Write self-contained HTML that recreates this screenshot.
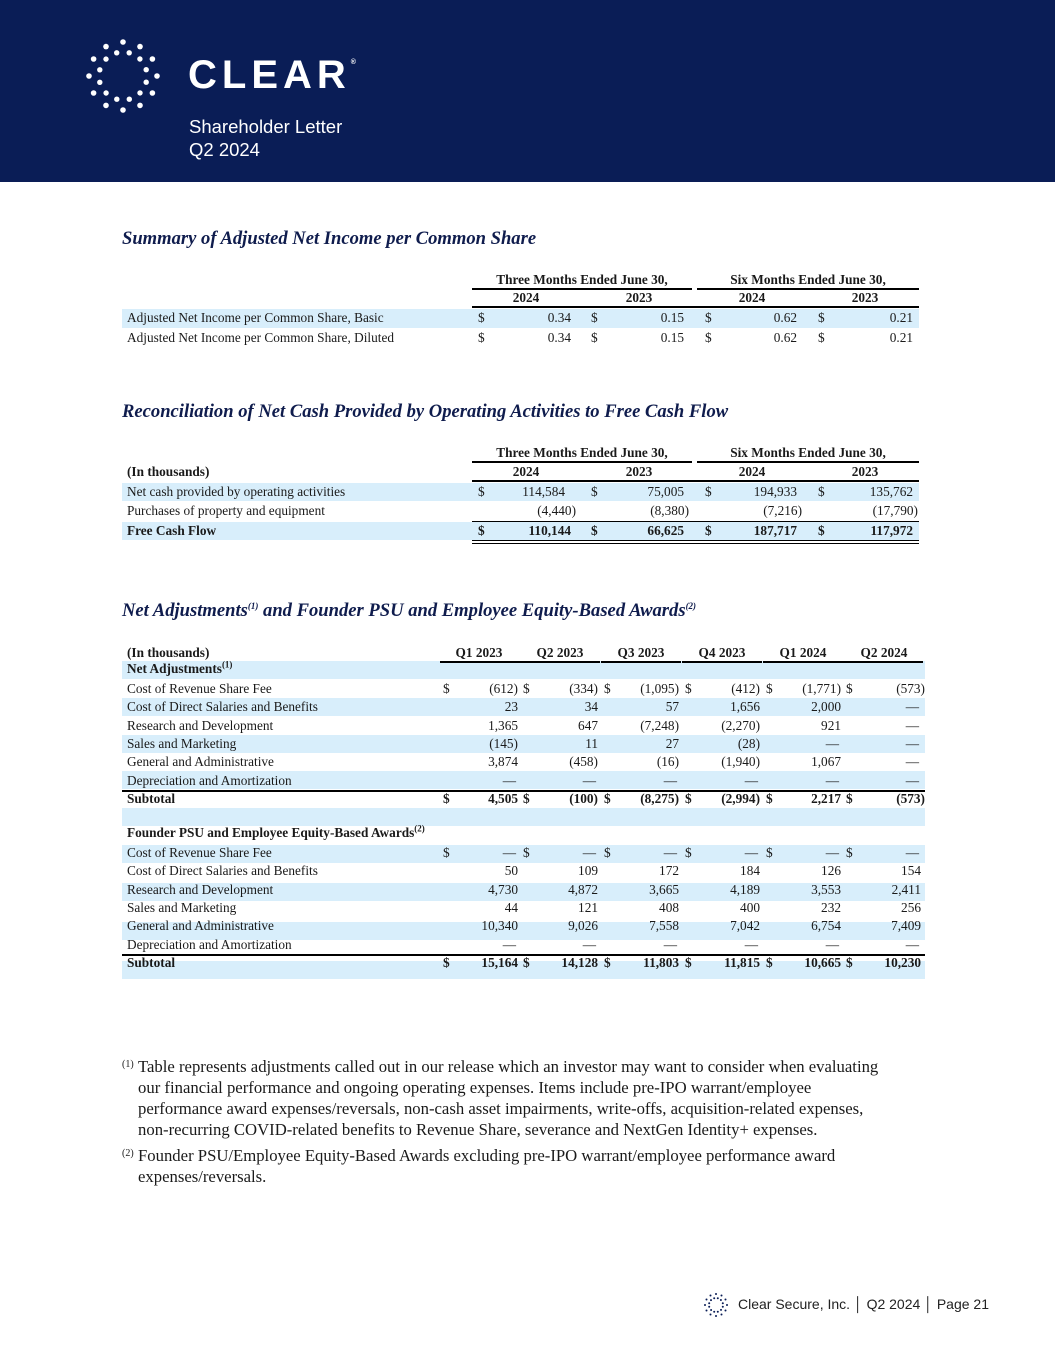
<!DOCTYPE html>
<html><head><meta charset="utf-8">
<style>
body{margin:0;width:1055px;height:1365px;position:relative;background:#fff;overflow:hidden;font-family:"Liberation Serif",serif;color:#1a1a1a}
.a{position:absolute;white-space:nowrap}
.t{font-size:13.3px;line-height:14px}
.b{font-weight:bold}
.h{position:absolute;font-weight:bold;font-style:italic;font-size:18.6px;color:#0f1c4d}
.sh{position:absolute;background:#d8eefb;left:122px}
.ln{position:absolute;background:#000;height:1.5px}
.fn{position:absolute;font-size:16.7px;line-height:21px;left:122px;width:770px}
sup{font-size:9px;line-height:0}
</style></head><body>
<div class="a" style="left:0;top:0;width:1055px;height:182px;background:#0a1d56"></div>
<svg class="a" style="left:80px;top:33px" width="90" height="86" id="logo"></svg>
<div class="a" style="left:188px;top:52px;font-family:'Liberation Sans',sans-serif;font-weight:bold;font-size:40px;letter-spacing:5px;color:#fff;line-height:46px">CLEAR<sup style="font-size:7px;letter-spacing:0;vertical-align:24px">®</sup></div>
<div class="a" style="left:189px;top:115px;font-family:'Liberation Sans',sans-serif;font-size:18.5px;line-height:23px;color:#fff">Shareholder Letter<br>Q2 2024</div>

<div class="h" style="left:122px;top:228px">Summary of Adjusted Net Income per Common Share</div>
<div class="h" style="left:122px;top:401px">Reconciliation of Net Cash Provided by Operating Activities to Free Cash Flow</div>
<div class="h" style="left:122px;top:600px">Net Adjustments<sup>(1)</sup> and Founder PSU and Employee Equity-Based Awards<sup>(2)</sup></div>

<div id="tables"></div>

<div class="fn" style="top:1056px;padding-left:16px;box-sizing:border-box"><span style="position:absolute;left:0;top:-2px;font-size:10px">(1)</span>Table represents adjustments called out in our release which an investor may want to consider when evaluating our financial performance and ongoing operating expenses. Items include pre-IPO warrant/employee performance award expenses/reversals, non-cash asset impairments, write-offs, acquisition-related expenses, non-recurring COVID-related benefits to Revenue Share, severance and NextGen Identity+ expenses.</div>
<div class="fn" style="top:1145px;padding-left:16px;box-sizing:border-box"><span style="position:absolute;left:0;top:-2px;font-size:10px">(2)</span>Founder PSU/Employee Equity-Based Awards excluding pre-IPO warrant/employee performance award expenses/reversals.</div>

<svg class="a" style="left:702px;top:1291px" width="28" height="28" id="logo2"></svg>
<div class="a" style="left:738px;top:1296px;font-family:'Liberation Sans',sans-serif;font-size:14px;color:#222">Clear Secure, Inc. │ Q2 2024 │ Page 21</div>

<script>
function dots(id,cx,cy,rings,col){
  var s=document.getElementById(id),h='';
  rings.forEach(function(r){for(var i=0;i<r[1];i++){var a=i/r[1]*Math.PI*2+r[2];h+='<circle cx="'+(cx+r[0]*Math.cos(a)).toFixed(1)+'" cy="'+(cy+r[0]*Math.sin(a)).toFixed(1)+'" r="'+r[3]+'" fill="'+col+'"/>';}});
  s.innerHTML=h;
}
dots('logo',43,43,[[24,12,0.26,2.7],[34,12,0,2.8]],'#fff');
dots('logo2',14,14,[[7,12,0.26,1],[11,12,0,1]],'#0a1d56');

var T=document.getElementById('tables');
function txt(x,y,s,align,cls,name){
  var d=document.createElement('div');
  d.className='a t '+(cls||'');
  d.textContent=s;
  d.style.top=(y-7)+'px';
  if(align==='r'){d.style.right=(1055-x)+'px';}
  else if(align==='c'){d.style.left=(x-100)+'px';d.style.width='200px';d.style.textAlign='center';}
  else d.style.left=x+'px';
  
  
  T.appendChild(d);return d;
}
function box(x,y,w,h,cls,name){
  var d=document.createElement('div');
  d.className=cls;
  d.style.left=x+'px';d.style.top=y+'px';d.style.width=w+'px';d.style.height=h+'px';
  
  
  T.appendChild(d);
}

/* Table 1 */
var t1Rows=['Adjusted Net Income per Common Share, Basic','Adjusted Net Income per Common Share, Diluted'];
var t1Vals=[['0.34','0.15','0.62','0.21'],['0.34','0.15','0.62','0.21']];
var t1Years=['2024','2023','2024','2023'];
var c4D=[478,591,705,818], c4R=[571,684,797,913], c4C=[526,639,752,865];
box(122,309,797,19,'sh','row-shading');
txt(582,280,'Three Months Ended June 30,','c','b','column-group-header');
txt(808,280,'Six Months Ended June 30,','c','b','column-group-header');
box(472,288,220,1.5,'ln','header-rule');box(697,288,222,1.5,'ln','header-rule');
t1Years.forEach(function(y,i){txt(c4C[i],298,y,'c','b','year-header');});
box(472,306,447,2,'ln','header-rule');
t1Rows.forEach(function(r,j){var y=318+j*20;txt(127,y,r,'l','','row-label');
  t1Vals[j].forEach(function(v,i){txt(c4D[i],y,'$','l','','dollar-sign');txt(c4R[i],y,v,'r','','value-cell');});});

/* Table 2 */
var t2Rows=['Net cash provided by operating activities','Purchases of property and equipment','Free Cash Flow'];
var t2Vals=[['114,584','75,005','194,933','135,762'],['(4,440)','(8,380)','(7,216)','(17,790)'],['110,144','66,625','187,717','117,972']];
box(122,483,797,18,'sh','row-shading');box(122,522,797,18,'sh','row-shading');
txt(582,453,'Three Months Ended June 30,','c','b','column-group-header');
txt(808,453,'Six Months Ended June 30,','c','b','column-group-header');
box(472,461,220,1.5,'ln','header-rule');box(697,461,222,1.5,'ln','header-rule');
txt(127,472,'(In thousands)','l','b','units-label');
t1Years.forEach(function(y,i){txt(c4C[i],472,y,'c','b','year-header');});
box(472,480,447,2,'ln','header-rule');
box(472,521,447,1.2,'ln','total-rule');box(472,540,447,1.2,'ln','total-rule');box(472,543,447,1.2,'ln','total-rule');
t2Rows.forEach(function(r,j){var y=[492,511,531][j];var bold=j===2?'b':'';txt(127,y,r,'l',bold,'row-label');
  t2Vals[j].forEach(function(v,i){if(j!==1)txt(c4D[i],y,'$','l',bold,'dollar-sign');txt(j===0&&i===0?c4R[i]-6:c4R[i]+(j===1?5:0),y,v,'r',bold,'value-cell');});});

/* Table 3 */
var quarters=['Q1 2023','Q2 2023','Q3 2023','Q4 2023','Q1 2024','Q2 2024'];
var rowLabels=['Cost of Revenue Share Fee','Cost of Direct Salaries and Benefits','Research and Development','Sales and Marketing','General and Administrative','Depreciation and Amortization'];
var netAdj=[['(612)','(334)','(1,095)','(412)','(1,771)','(573)'],['23','34','57','1,656','2,000','—'],['1,365','647','(7,248)','(2,270)','921','—'],['(145)','11','27','(28)','—','—'],['3,874','(458)','(16)','(1,940)','1,067','—'],['—','—','—','—','—','—']];
var netSub=['4,505','(100)','(8,275)','(2,994)','2,217','(573)'];
var founder=[['—','—','—','—','—','—'],['50','109','172','184','126','154'],['4,730','4,872','3,665','4,189','3,553','2,411'],['44','121','408','400','232','256'],['10,340','9,026','7,558','7,042','6,754','7,409'],['—','—','—','—','—','—']];
var founderSub=['15,164','14,128','11,803','11,815','10,665','10,230'];
var qD=[443,523,604,685,766,846], qR=[518,598,679,760,841,921], qC=[479,560,641,722,803,884];
function isParen(v){return v.charAt(v.length-1)===')';}
[661,698,735,771,808,845,883,922,961].forEach(function(y){box(122,y,803,18,'sh','row-shading');});
txt(127,653,'(In thousands)','l','b','units-label');
quarters.forEach(function(q,i){txt(qC[i],653,q,'c','b','quarter-header');box(qD[i]-3,661,80,1.5,'ln','header-rule');});
function sect(y0,title,data,sub){
  var h=txt(127,y0,'','l','b','section-label');h.innerHTML=title;
  data.forEach(function(row,j){var y=y0+20+j*18.3;txt(127,y,rowLabels[j],'l','','row-label');
    row.forEach(function(v,i){if(j===0)txt(qD[i],y,'$','l','','dollar-sign');txt(qR[i]+(isParen(v)&&i===5?4:0)-(v==='—'?2:0),y,v,'r','','value-cell');});});
  var ys=y0+130;
  box(122,ys-9,803,1.5,'ln','subtotal-rule');
  txt(127,ys,'Subtotal','l','b','row-label');
  sub.forEach(function(v,i){txt(qD[i],ys,'$','l','b','dollar-sign');txt(qR[i]+(isParen(v)&&i===5?4:0),ys,v,'r','b','value-cell');});
}
sect(669,'Net Adjustments<sup>(1)</sup>',netAdj,netSub);
sect(833,'Founder PSU and Employee Equity-Based Awards<sup>(2)</sup>',founder,founderSub);
</script>
</body></html>
